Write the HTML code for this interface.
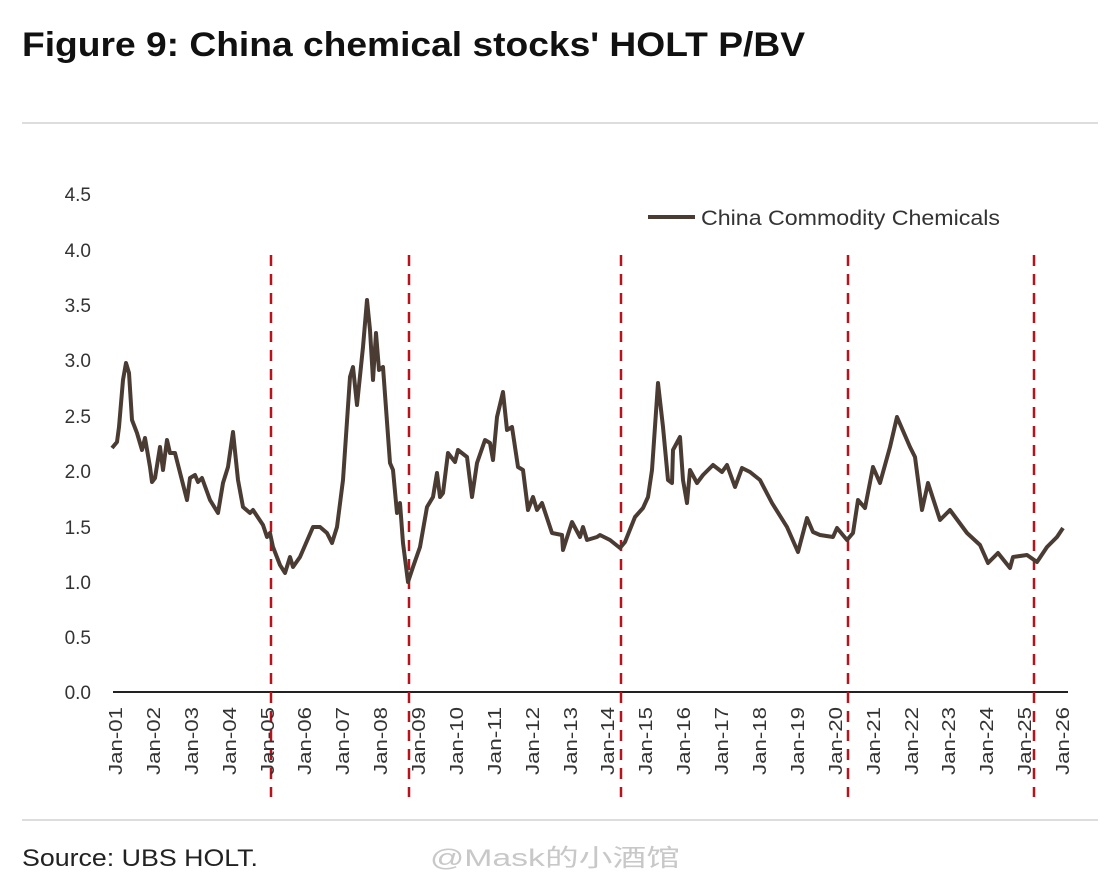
<!DOCTYPE html>
<html><head><meta charset="utf-8"><style>
body{margin:0;background:#fff;width:1108px;height:887px;overflow:hidden}
svg{display:block}
</style></head><body>
<svg width="1108" height="887" xmlns="http://www.w3.org/2000/svg" font-family="'Liberation Sans', sans-serif">
<text x="22" y="56" font-size="34" font-weight="bold" fill="#111" textLength="783" lengthAdjust="spacingAndGlyphs">Figure 9: China chemical stocks' HOLT P/BV</text>
<line x1="22" y1="123" x2="1098" y2="123" stroke="#ddd" stroke-width="2"/>
<line x1="22" y1="820" x2="1098" y2="820" stroke="#ddd" stroke-width="2"/>
<text x="22" y="866" font-size="24" fill="#222" textLength="236" lengthAdjust="spacingAndGlyphs">Source: UBS HOLT.</text>
<text x="430" y="866" font-size="24" fill="#c8c8c8" textLength="250" lengthAdjust="spacingAndGlyphs" font-family="'Liberation Sans','Noto Sans CJK SC',sans-serif">@Mask的小酒馆</text>
<g font-size="19" fill="#333" text-anchor="end">
<text x="91" y="201">4.5</text><text x="91" y="257">4.0</text><text x="91" y="312">3.5</text>
<text x="91" y="367">3.0</text><text x="91" y="423">2.5</text><text x="91" y="478">2.0</text>
<text x="91" y="534">1.5</text><text x="91" y="589">1.0</text><text x="91" y="644">0.5</text>
<text x="91" y="699">0.0</text>
</g>
<line x1="113" y1="692" x2="1068" y2="692" stroke="#222" stroke-width="2"/>
<g stroke="#b8121b" stroke-width="2.5" stroke-dasharray="11,8">
<line x1="271" y1="255" x2="271" y2="797"/><line x1="409" y1="255" x2="409" y2="797"/>
<line x1="621" y1="255" x2="621" y2="797"/><line x1="848" y1="255" x2="848" y2="797"/>
<line x1="1034" y1="255" x2="1034" y2="797"/>
</g>
<polyline fill="none" stroke="#4a3c33" stroke-width="4" stroke-linejoin="round" points="112,448 117,442 119,427 123,380 126,363 129,373 132,420 137,433 142,450 145,438 150,467 152,482 155,478 160,447 163,470 167,440 170,453 175,453 187,500 190,478 195,475 198,482 202,478 210,500 218,513 223,483 228,467 233,432 238,480 243,507 250,513 253,510 263,525 267,537 270,533 273,547 280,565 285,573 290,557 293,567 300,557 313,527 320,527 327,533 332,543 337,527 343,480 350,377 353,367 357,405 363,347 367,300 370,330 373,380 376,333 379,370 383,367 390,463 393,470 397,513 400,503 403,543 408,582 413,567 420,547 427,507 433,497 437,473 440,497 443,493 448,453 455,462 458,450 467,457 472,497 477,463 485,440 490,443 493,460 497,417 503,392 507,430 512,427 518,467 523,470 528,510 533,497 537,510 542,503 552,533 562,535 563,550 572,522 580,537 583,527 587,540 597,537 600,535 610,540 620,548 625,542 635,517 643,508 648,497 652,470 658,383 663,427 668,480 672,483 673,450 680,437 683,480 687,503 690,470 697,483 703,475 713,465 722,472 727,465 735,487 742,468 750,472 760,480 772,503 787,527 798,552 807,518 813,532 820,535 833,537 837,528 847,540 853,533 858,500 865,508 873,467 880,483 890,447 897,417 910,447 915,457 922,510 928,483 940,520 950,510 967,533 980,545 988,563 998,553 1010,568 1013,557 1027,555 1037,562 1047,547 1057,537 1063,528"/>
<line x1="648" y1="217" x2="695" y2="217" stroke="#4a3c33" stroke-width="4"/>
<text x="701" y="225" font-size="21" fill="#333" textLength="299" lengthAdjust="spacingAndGlyphs">China Commodity Chemicals</text>
<g font-size="18" fill="#333" text-anchor="end">
<text transform="translate(122,707) rotate(-90)" textLength="68" lengthAdjust="spacingAndGlyphs">Jan-01</text>
<text transform="translate(160,707) rotate(-90)" textLength="68" lengthAdjust="spacingAndGlyphs">Jan-02</text>
<text transform="translate(198,707) rotate(-90)" textLength="68" lengthAdjust="spacingAndGlyphs">Jan-03</text>
<text transform="translate(236,707) rotate(-90)" textLength="68" lengthAdjust="spacingAndGlyphs">Jan-04</text>
<text transform="translate(274,707) rotate(-90)" textLength="68" lengthAdjust="spacingAndGlyphs">Jan-05</text>
<text transform="translate(311,707) rotate(-90)" textLength="68" lengthAdjust="spacingAndGlyphs">Jan-06</text>
<text transform="translate(349,707) rotate(-90)" textLength="68" lengthAdjust="spacingAndGlyphs">Jan-07</text>
<text transform="translate(387,707) rotate(-90)" textLength="68" lengthAdjust="spacingAndGlyphs">Jan-08</text>
<text transform="translate(425,707) rotate(-90)" textLength="68" lengthAdjust="spacingAndGlyphs">Jan-09</text>
<text transform="translate(463,707) rotate(-90)" textLength="68" lengthAdjust="spacingAndGlyphs">Jan-10</text>
<text transform="translate(501,707) rotate(-90)" textLength="68" lengthAdjust="spacingAndGlyphs">Jan-11</text>
<text transform="translate(539,707) rotate(-90)" textLength="68" lengthAdjust="spacingAndGlyphs">Jan-12</text>
<text transform="translate(577,707) rotate(-90)" textLength="68" lengthAdjust="spacingAndGlyphs">Jan-13</text>
<text transform="translate(614,707) rotate(-90)" textLength="68" lengthAdjust="spacingAndGlyphs">Jan-14</text>
<text transform="translate(652,707) rotate(-90)" textLength="68" lengthAdjust="spacingAndGlyphs">Jan-15</text>
<text transform="translate(690,707) rotate(-90)" textLength="68" lengthAdjust="spacingAndGlyphs">Jan-16</text>
<text transform="translate(728,707) rotate(-90)" textLength="68" lengthAdjust="spacingAndGlyphs">Jan-17</text>
<text transform="translate(766,707) rotate(-90)" textLength="68" lengthAdjust="spacingAndGlyphs">Jan-18</text>
<text transform="translate(804,707) rotate(-90)" textLength="68" lengthAdjust="spacingAndGlyphs">Jan-19</text>
<text transform="translate(842,707) rotate(-90)" textLength="68" lengthAdjust="spacingAndGlyphs">Jan-20</text>
<text transform="translate(880,707) rotate(-90)" textLength="68" lengthAdjust="spacingAndGlyphs">Jan-21</text>
<text transform="translate(918,707) rotate(-90)" textLength="68" lengthAdjust="spacingAndGlyphs">Jan-22</text>
<text transform="translate(955,707) rotate(-90)" textLength="68" lengthAdjust="spacingAndGlyphs">Jan-23</text>
<text transform="translate(993,707) rotate(-90)" textLength="68" lengthAdjust="spacingAndGlyphs">Jan-24</text>
<text transform="translate(1031,707) rotate(-90)" textLength="68" lengthAdjust="spacingAndGlyphs">Jan-25</text>
<text transform="translate(1069,707) rotate(-90)" textLength="68" lengthAdjust="spacingAndGlyphs">Jan-26</text>
</g>
</svg>
</body></html>
